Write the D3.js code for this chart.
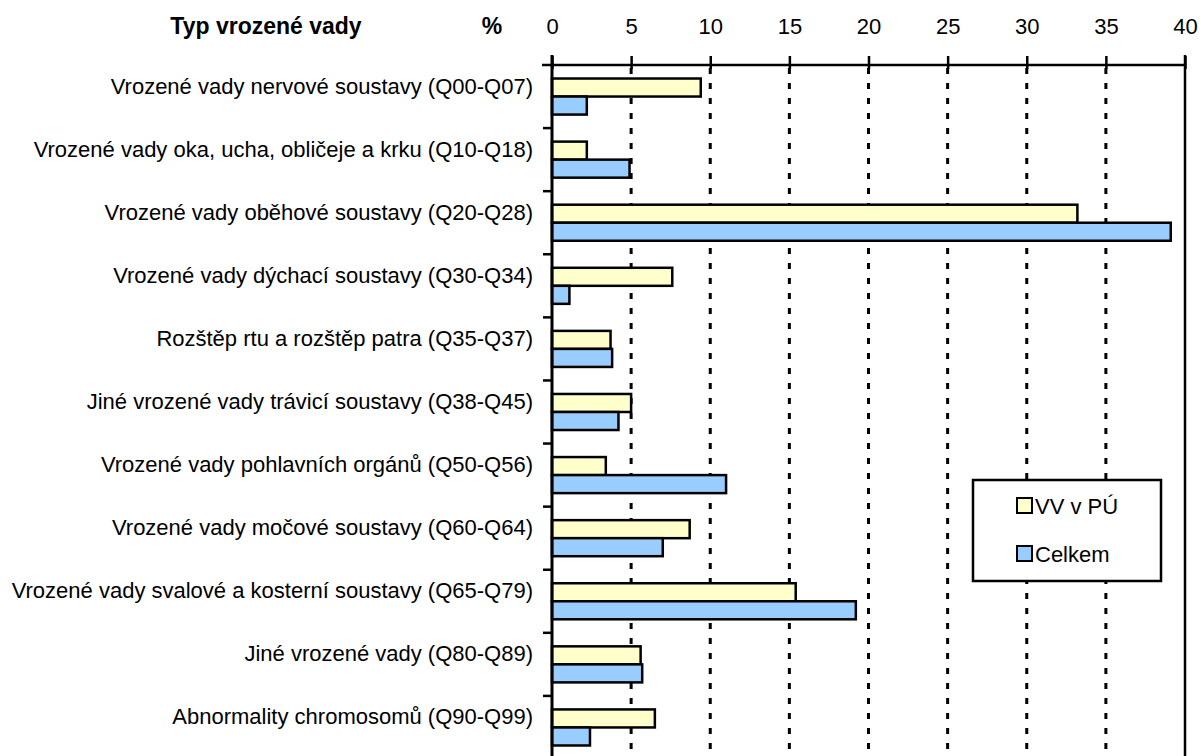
<!DOCTYPE html>
<html>
<head>
<meta charset="utf-8">
<script src="https://cdnjs.cloudflare.com/ajax/libs/d3/7.8.5/d3.min.js"></script>
<style>
  body { margin: 0; background: #fff; }
  svg { display: block; font-family: "Liberation Sans", Arial, sans-serif; }
</style>
</head>
<body>
<div id="chart"></div>
<script>
var categories = [
  "Vrozené vady nervové soustavy (Q00-Q07)",
  "Vrozené vady oka, ucha, obličeje a krku (Q10-Q18)",
  "Vrozené vady oběhové soustavy (Q20-Q28)",
  "Vrozené vady dýchací soustavy (Q30-Q34)",
  "Rozštěp rtu a rozštěp patra (Q35-Q37)",
  "Jiné vrozené vady trávicí soustavy (Q38-Q45)",
  "Vrozené vady pohlavních orgánů (Q50-Q56)",
  "Vrozené vady močové soustavy (Q60-Q64)",
  "Vrozené vady svalové a kosterní soustavy (Q65-Q79)",
  "Jiné vrozené vady (Q80-Q89)",
  "Abnormality chromosomů (Q90-Q99)"
];
var seriesNames = ["VV v PÚ", "Celkem"];
var vvPu   = [9.4, 2.2, 33.2, 7.6, 3.7, 5.0, 3.4, 8.7, 15.4, 5.6, 6.5];
var celkem = [2.2, 4.9, 39.1, 1.1, 3.8, 4.2, 11.0, 7.0, 19.2, 5.7, 2.4];
var xTicks = [0, 5, 10, 15, 20, 25, 30, 35, 40];
var colors = ["#ffffcc", "#99ccff"];

var width = 1201, height = 756;
// plot area edges (note: "top" is reserved on window, so use plot* names)
var plotLeft = 552, plotRight = 1185, plotTop = 65, plotBottom = 759;

var svg = d3.select("#chart").append("svg")
  .attr("width", width)
  .attr("height", height);

var x = d3.scaleLinear().domain([0, 40]).range([plotLeft, plotRight]);

// one band per category, two bars inside
var y0 = d3.scaleBand().domain(categories).range([plotTop, plotBottom]);
var y1 = d3.scaleBand().domain(seriesNames)
  .range([0, y0.bandwidth()])
  .paddingInner(0).paddingOuter(0.75);

// dashed grid lines
svg.append("g").selectAll("line")
  .data(xTicks.slice(1, -1))
  .join("line")
  .attr("x1", function(d) { return x(d); })
  .attr("x2", function(d) { return x(d); })
  .attr("y1", plotTop + 3)
  .attr("y2", plotBottom)
  .attr("stroke", "#000")
  .attr("stroke-width", 3)
  .attr("stroke-dasharray", "6,9");

// right border at 40
svg.append("line")
  .attr("x1", x(40)).attr("x2", x(40))
  .attr("y1", plotTop - 10).attr("y2", plotBottom)
  .attr("stroke", "#000").attr("stroke-width", 2.5);

// bars
var rows = categories.map(function(c, i) {
  return { cat: c, values: [vvPu[i], celkem[i]] };
});
var groups = svg.append("g").selectAll("g")
  .data(rows)
  .join("g")
  .attr("transform", function(d) { return "translate(0," + y0(d.cat) + ")"; });

groups.selectAll("rect")
  .data(function(d) {
    return d.values.map(function(v, j) { return { key: seriesNames[j], value: v, idx: j }; });
  })
  .join("rect")
  .attr("x", x(0))
  .attr("y", function(d) { return y1(d.key); })
  .attr("width", function(d) { return x(d.value) - x(0); })
  .attr("height", y1.bandwidth())
  .attr("fill", function(d) { return colors[d.idx]; })
  .attr("stroke", "#000")
  .attr("stroke-width", 2.5);

// top value axis
var xAxis = svg.append("g")
  .attr("transform", "translate(0," + plotTop + ")")
  .call(d3.axisTop(x).tickValues(xTicks).tickSize(9).tickPadding(0));
xAxis.select(".domain").attr("d", "M" + (plotLeft - 10) + ",0H" + plotRight)
  .attr("stroke-width", 2.5);
xAxis.selectAll(".tick line")
  .attr("y1", 4).attr("y2", -9)
  .attr("stroke-width", 2.5);
xAxis.selectAll(".tick text")
  .attr("y", -31)
  .attr("dy", 0)
  .attr("font-size", 22)
  .attr("font-family", "Liberation Sans, Arial, sans-serif")
  .attr("fill", "#000");

// left category axis: line plus ticks at band boundaries
svg.append("line")
  .attr("x1", x(0)).attr("x2", x(0))
  .attr("y1", plotTop - 10).attr("y2", plotBottom)
  .attr("stroke", "#000").attr("stroke-width", 3);

svg.append("g").selectAll("line")
  .data(categories.slice(1))
  .join("line")
  .attr("x1", x(0) - 9)
  .attr("x2", x(0))
  .attr("y1", function(d) { return y0(d); })
  .attr("y2", function(d) { return y0(d); })
  .attr("stroke", "#000")
  .attr("stroke-width", 2.5);

svg.append("g").selectAll("text")
  .data(categories)
  .join("text")
  .attr("x", 533)
  .attr("y", function(d) { return y0(d) + y0.bandwidth() / 2 - 3; })
  .attr("text-anchor", "end")
  .attr("font-size", 22)
  .attr("fill", "#000")
  .text(function(d) { return d; });

// headers
svg.append("text")
  .attr("x", 266).attr("y", 34)
  .attr("text-anchor", "middle")
  .attr("font-size", 23)
  .attr("font-weight", "bold")
  .text("Typ vrozené vady");
svg.append("text")
  .attr("x", 492).attr("y", 34)
  .attr("text-anchor", "middle")
  .attr("font-size", 23)
  .attr("font-weight", "bold")
  .text("%");

// legend
var legend = svg.append("g").attr("transform", "translate(973,480)");
legend.append("rect")
  .attr("width", 188).attr("height", 101)
  .attr("fill", "#fff").attr("stroke", "#000").attr("stroke-width", 2.5);
var items = legend.selectAll("g.item")
  .data(seriesNames)
  .join("g")
  .attr("class", "item")
  .attr("transform", function(d, i) { return "translate(44," + (18 + i * 48) + ")"; });
items.append("rect")
  .attr("width", 15).attr("height", 15)
  .attr("fill", function(d, i) { return colors[i]; })
  .attr("stroke", "#000").attr("stroke-width", 2);
items.append("text")
  .attr("x", 18).attr("y", 16)
  .attr("font-size", 22)
  .text(function(d) { return d; });
</script>
</body>
</html>
